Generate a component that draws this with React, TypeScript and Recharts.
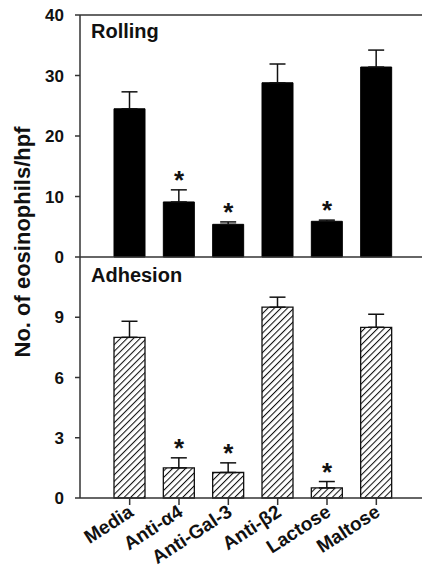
import React from 'react';
import {
  ComposedChart,
  Bar,
  Scatter,
  ErrorBar,
  XAxis,
  YAxis,
  ReferenceLine,
} from 'recharts';

const categories = ['Media', 'Anti-α4', 'Anti-Gal-3', 'Anti-β2', 'Lactose', 'Maltose'];
const rolling = [24.5, 9.1, 5.4, 28.8, 5.9, 31.4];
const rollingErr = [2.8, 2.0, 0.4, 3.1, 0.2, 2.8];
const adhesion = [8.0, 1.5, 1.27, 9.5, 0.5, 8.5];
const adhesionErr = [0.8, 0.5, 0.48, 0.5, 0.32, 0.65];
const significant = [false, true, true, false, true, false];
const rollingTicks = [0, 10, 20, 30, 40];
const adhesionTicks = [0, 3, 6, 9];

const FONT = '"Liberation Sans", Arial, sans-serif';
const AXIS = '#333';

const buildRows = (vals: number[], errs: number[]) =>
  categories.map((name, i) => ({
    name,
    value: vals[i],
    err: [0, errs[i]],
    star: significant[i] ? vals[i] + errs[i] : null,
  }));

const rollingData = buildRows(rolling, rollingErr);
const adhesionData = buildRows(adhesion, adhesionErr);

const Star = (props: any) => {
  const { cx, cy, payload } = props;
  if (payload == null || payload.star == null || cy == null || isNaN(cy)) return null;
  return (
    <text x={cx} y={cy - 1} textAnchor="middle" fontSize={26} fontWeight="bold" fontFamily={FONT} fill="#111">
      *
    </text>
  );
};

const XTick = (props: any) => {
  const { x, y, payload } = props;
  return (
    <g transform={`translate(${x + 5},${y + 8}) rotate(-33)`}>
      <text x={0} y={0} textAnchor="end" fontSize={19} fontWeight="bold" fontFamily={FONT} fill="#111">
        {payload.value}
      </text>
    </g>
  );
};

const yTick = { fontSize: 17, fontWeight: 'bold', fontFamily: FONT, fill: '#111' };

const App: React.FC = () => {
  return (
    <div style={{ position: 'absolute', left: 0, top: 0, width: 422, height: 567, overflow: 'hidden', background: '#fff' }}>
      <div style={{ position: 'absolute', left: 0, top: 250 }}>
        <ComposedChart width={430} height={317} data={adhesionData} margin={{ top: 7, right: 4, bottom: 0, left: 0 }}>
          <defs>
            <pattern id="hatch" patternUnits="userSpaceOnUse" width={4.6} height={4.6} patternTransform="rotate(45)">
              <rect width={4.6} height={4.6} fill="#fff" />
              <line x1={0} y1={0} x2={0} y2={4.6} stroke="#111" strokeWidth={2.1} />
            </pattern>
          </defs>
          <XAxis
            dataKey="name"
            padding={{ left: 25, right: 25 }}
            height={69}
            tickSize={7}
            tickMargin={2}
            tick={<XTick />}
            interval={0}
            stroke={AXIS}
            strokeWidth={1.5}
          />
          <YAxis
            width={80}
            domain={[0, 12]}
            ticks={adhesionTicks}
            interval={0}
            tickSize={5}
            tickMargin={11}
            tick={yTick}
            stroke={AXIS}
            strokeWidth={1.5}
          />
          <Bar dataKey="value" fill="url(#hatch)" stroke="#111" strokeWidth={1.3} barSize={31} isAnimationActive={false}>
            <ErrorBar dataKey="err" width={8} stroke="#111" strokeWidth={1.5} direction="y" />
          </Bar>
          <Scatter dataKey="star" shape={<Star />} isAnimationActive={false} />
        </ComposedChart>
      </div>
      <div style={{ position: 'absolute', left: 0, top: 0 }}>
        <ComposedChart width={430} height={272} data={rollingData} margin={{ top: 15, right: 4, bottom: 15, left: 0 }}>
          <XAxis dataKey="name" hide padding={{ left: 25, right: 25 }} />
          <YAxis
            width={80}
            domain={[0, 40]}
            ticks={rollingTicks}
            interval={0}
            tickSize={5}
            tickMargin={11}
            tick={yTick}
            stroke={AXIS}
            strokeWidth={1.5}
          />
          <ReferenceLine y={40} stroke={AXIS} strokeWidth={1.5} />
          <ReferenceLine y={0} stroke={AXIS} strokeWidth={1.5} />
          <Bar dataKey="value" fill="#000" stroke="#000" barSize={31} isAnimationActive={false}>
            <ErrorBar dataKey="err" width={8} stroke="#111" strokeWidth={1.5} direction="y" />
          </Bar>
          <Scatter dataKey="star" shape={<Star />} isAnimationActive={false} />
        </ComposedChart>
      </div>
      <svg width={422} height={567} style={{ position: 'absolute', left: 0, top: 0, pointerEvents: 'none' }}>
        <text x={91} y={38} fontSize={20} fontWeight="bold" fontFamily={FONT} fill="#111">
          Rolling
        </text>
        <text x={91} y={282} fontSize={20} fontWeight="bold" fontFamily={FONT} fill="#111">
          Adhesion
        </text>
        <text
          transform="translate(30,242) rotate(-90)"
          textAnchor="middle"
          fontSize={22}
          fontWeight="bold"
          fontFamily={FONT}
          fill="#111"
        >
          No. of eosinophils/hpf
        </text>
      </svg>
    </div>
  );
};

export default App;
